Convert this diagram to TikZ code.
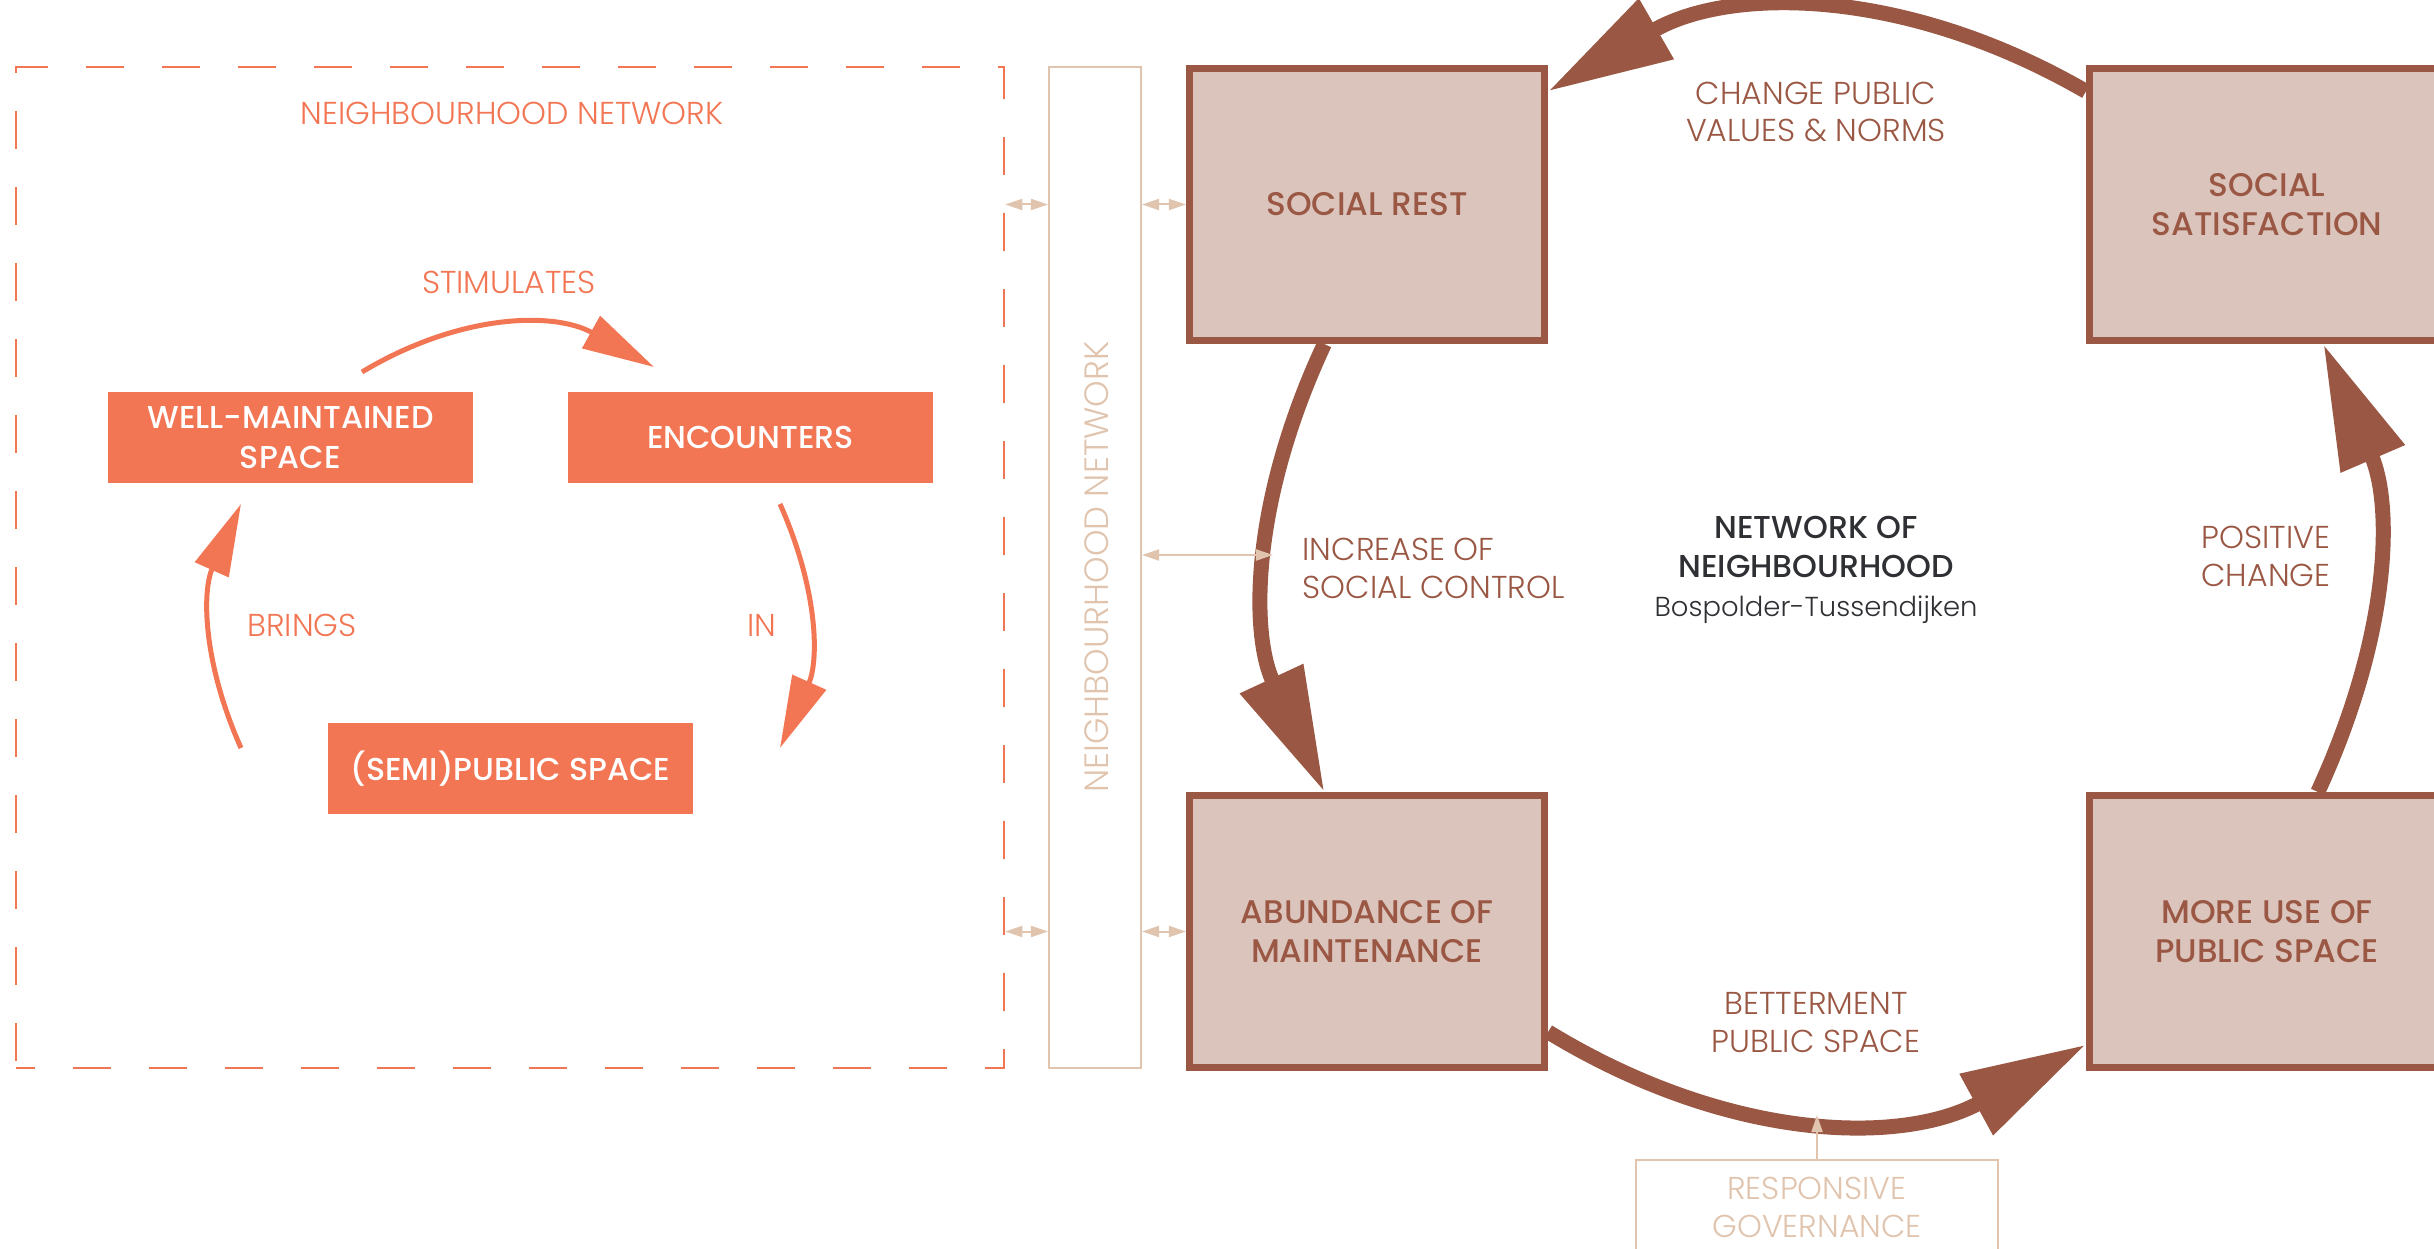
\documentclass[tikz,border=0pt]{standalone}
\usepackage{fontspec}
\setmainfont{Poppins}[UprightFont=* Light,BoldFont=* Medium]
\usetikzlibrary{arrows.meta}
\definecolor{coral}{HTML}{F27653}
\definecolor{rust}{HTML}{9A5844}
\definecolor{blush}{HTML}{DBC4BC}
\definecolor{sand}{HTML}{E0C4AE}
\definecolor{slate}{HTML}{2E3033}

\tikzset{
  hoodbox/.style={fill=coral,text=white,font=\bfseries\fontsize{9}{11.2}\selectfont,
    minimum width=3.65cm,minimum height=0.91cm,inner sep=0pt,align=center},
  cyclebox/.style={draw=rust,line width=0.07cm,fill=blush,text=rust,
    font=\bfseries\fontsize{9.3}{11.2}\selectfont,minimum width=3.55cm,minimum height=2.72cm,
    inner sep=0pt,align=center},
  hoodlbl/.style={text=coral,font=\fontsize{9}{10.8}\selectfont,inner sep=0pt,align=center},
  cyclelbl/.style={text=rust,font=\fontsize{9}{10.8}\selectfont,inner sep=0pt,align=center},
  sandlbl/.style={text=sand,font=\fontsize{9}{10.8}\selectfont,inner sep=0pt,align=center},
  bigarrow/.style={draw=rust,line width=0.15cm,-{Triangle[length=1.25cm,width=0.66cm]}},
  smallarrow/.style={draw=coral,line width=0.05cm,-{Triangle[length=0.72cm,width=0.36cm]}},
  linkline/.style={draw=sand,line width=0.02cm,>={Triangle[length=0.17cm,width=0.11cm]}},
}

\begin{document}
\begin{tikzpicture}[x=0.01cm,y=-0.01cm]
\useasboundingbox (0,0) rectangle (2434,1249);
\clip (0,0) rectangle (2434,1249);

% neighbourhood network
\node[draw=coral,line width=0.02cm,dash pattern=on 0.38cm off 0.38cm,dash phase=0.19cm,
  minimum width=9.88cm,minimum height=10.01cm,inner sep=0pt] (hood) at (510,567.5) {};
\node[hoodlbl] (hoodtitle) at (512,113) {NEIGHBOURHOOD NETWORK};

\node[hoodbox] (well) at (290.5,437.5) {WELL-MAINTAINED\\SPACE};
\node[hoodbox] (meet) at (750.5,437.5) {ENCOUNTERS};
\node[hoodbox] (semi) at (510.5,768.5) {(SEMI)PUBLIC SPACE};

\node[hoodlbl] (stimlbl) at (509,282) {STIMULATES};
\node[hoodlbl] (bringlbl) at (302,625) {BRINGS};
\node[hoodlbl] (inlbl) at (762,625) {IN};

\coordinate (stimA) at (362,372);
\coordinate (stimB) at (654,367);
\coordinate (inA) at (780,504);
\coordinate (inB) at (780,748);
\coordinate (bringA) at (241,748);
\coordinate (bringB) at (241,504);
\draw[smallarrow] (stimA) to[bend left=30] (stimB);
\draw[smallarrow] (inA) to[bend left=24] (inB);
\draw[smallarrow] (bringA) to[bend left=24] (bringB);

% side band
\node[draw=sand,line width=0.02cm,minimum width=0.92cm,minimum height=10.01cm,inner sep=0pt] (vnet) at (1095,567.5) {};
\node[sandlbl,rotate=90,font=\fontsize{9.6}{11}\selectfont] (vnetlbl) at (1097,567) {NEIGHBOURHOOD NETWORK};

% cycle
\node[cyclebox] (rest) at (1367,204.5) {SOCIAL REST};
\node[cyclebox] (satis) at (2267,204.5) {SOCIAL\\SATISFACTION};
\node[cyclebox] (abund) at (1367,931.5) {ABUNDANCE OF\\MAINTENANCE};
\node[cyclebox] (more) at (2267,931.5) {MORE USE OF\\PUBLIC SPACE};

\node[text=slate,font=\bfseries\fontsize{9}{11.2}\selectfont,align=center,inner sep=0pt] (core) at (1816,570)
  {NETWORK OF\\NEIGHBOURHOOD\\\mdseries\fontsize{7.8}{11.2}\selectfont Bospolder-Tussendijken};

\node[cyclelbl] (valueslbl) at (1816,112) {CHANGE PUBLIC\\VALUES \& NORMS};
\node[cyclelbl,anchor=west,align=left] (controllbl) at (1302,568) {INCREASE OF\\SOCIAL CONTROL};
\node[cyclelbl] (poslbl) at (2266,556) {POSITIVE\\CHANGE};
\node[cyclelbl] (betterlbl) at (1816,1023) {BETTERMENT\\PUBLIC SPACE};
\node[sandlbl,draw=sand,line width=0.02cm,anchor=north,minimum width=3.62cm,minimum height=0.94cm] (gov) at (1817,1159) {RESPONSIVE\\GOVERNANCE};

\draw[bigarrow] (satis.148) to[bend right=30] (rest.32);
\draw[bigarrow] (rest.253) to[bend right=25] (abund.107);
\draw[bigarrow] (abund.331) to[bend right=30] (more.212);
\draw[bigarrow] (more.70) to[bend right=24] (satis.292);

% links
\coordinate (ctrltip) at (1273,555);
\coordinate (govtip) at (1817,1115);
\draw[linkline,<->] (hood.east |- rest.west) -- (vnet.west |- rest.west);
\draw[linkline,<->] (vnet.east |- rest.west) -- (rest.west);
\draw[linkline,<->] (hood.east |- abund.west) -- (vnet.west |- abund.west);
\draw[linkline,<->] (vnet.east |- abund.west) -- (abund.west);
\draw[linkline,<->] (vnet.east |- ctrltip) -- (ctrltip);
\draw[linkline,->] (gov.north) -- (govtip);
\end{tikzpicture}
\end{document}
